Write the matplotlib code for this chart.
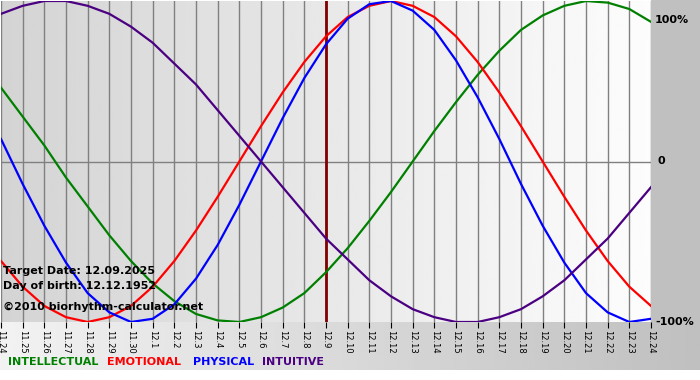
import matplotlib
matplotlib.use("Agg")
import matplotlib.pyplot as plt
import numpy as np

W, H = 700, 380

dates = ["11.24", "11.25", "11.26", "11.27", "11.28", "11.29", "11.30",
         "12.1", "12.2", "12.3", "12.4", "12.5", "12.6", "12.7", "12.8",
         "12.9", "12.10", "12.11", "12.12", "12.13", "12.14", "12.15",
         "12.16", "12.17", "12.18", "12.19", "12.20", "12.21", "12.22",
         "12.23", "12.24"]
target_day = "12.9"

physical = [0.14, -0.14, -0.40, -0.63, -0.82, -0.94, -1.00, -0.98, -0.89,
            -0.73, -0.52, -0.27, 0.00, 0.27, 0.52, 0.73, 0.89, 0.98, 1.00,
            0.94, 0.82, 0.63, 0.40, 0.14, -0.14, -0.40, -0.63, -0.82,
            -0.94, -1.00, -0.98]
emotional = [-0.62, -0.78, -0.90, -0.97, -1.00, -0.97, -0.90, -0.78, -0.62,
             -0.43, -0.22, 0.00, 0.22, 0.43, 0.62, 0.78, 0.90, 0.97, 1.00,
             0.97, 0.90, 0.78, 0.62, 0.43, 0.22, 0.00, -0.22, -0.43, -0.62,
             -0.78, -0.90]
intellectual = [0.46, 0.28, 0.10, -0.10, -0.28, -0.46, -0.62, -0.76, -0.87,
                -0.95, -0.99, -1.00, -0.97, -0.91, -0.82, -0.69, -0.54, -0.37,
                -0.19, 0.00, 0.19, 0.37, 0.54, 0.69, 0.82, 0.91, 0.97, 1.00,
                0.99, 0.95, 0.87]
intuitive = [0.92, 0.97, 1.00, 1.00, 0.97, 0.92, 0.84, 0.74, 0.61, 0.48,
             0.32, 0.16, 0.00, -0.16, -0.32, -0.48, -0.61, -0.74, -0.84,
             -0.92, -0.97, -1.00, -1.00, -0.97, -0.92, -0.84, -0.74, -0.61,
             -0.48, -0.32, -0.16]

series = [("INTELLECTUAL", intellectual, "#008000"),
          ("EMOTIONAL", emotional, "#ff0000"),
          ("PHYSICAL", physical, "#0000ff"),
          ("INTUITIVE", intuitive, "#4b0082")]
legend_x = [8, 107, 193, 262]

info_lines = ["Target Date: 12.09.2025", "Day of birth: 12.12.1952",
              "\u00a92010 biorhythm-calculator.net"]

fig = plt.figure(figsize=(W / 100, H / 100), dpi=100)
fig.patch.set_facecolor("white")

# background: grey right panel and gradient band under the plot
bg = fig.add_axes([0, 0, 1, 1], zorder=0)
bg.set_xlim(0, W)
bg.set_ylim(H, 0)
bg.axis("off")
bg.add_patch(plt.Rectangle((651, 0), W - 651, 322, color="#c0c0c0", lw=0))
grad = np.linspace(0.95, 0.75, 256).reshape(1, -1)
bg.imshow(grad, cmap="gray", vmin=0, vmax=1, aspect="auto",
          extent=(0, W, 370, 322))

ax = fig.add_axes([1 / W, 1 - 322 / H, 650 / W, 321 / H], zorder=1)
x = np.arange(len(dates))
ax.set_xlim(0, len(dates) - 1)
ax.set_ylim(-1.0, 1.0)

pgrad = np.linspace(0.83, 0.99, 256).reshape(1, -1)
ax.imshow(pgrad, cmap="gray", vmin=0, vmax=1, aspect="auto",
          extent=(0, len(dates) - 1, -1.0, 1.0), zorder=0)

for xi in x:
    ax.axvline(xi, color="#808080", lw=1, zorder=1)
ax.axhline(0, color="#808080", lw=1, zorder=1)
ax.axvline(dates.index(target_day), color="#800000", lw=2, zorder=2)

for name, vals, col in series:
    ax.plot(x, vals, color=col, lw=1.6, zorder=3)

for spine in ax.spines.values():
    spine.set_visible(False)
ax.set_yticks([])
ax.set_xticks(x)
ax.set_xticklabels(dates, rotation=-90, fontsize=6, va="top", ha="center")
ax.tick_params(axis="x", length=4, width=0.8, color="black", pad=2)

for i, line in enumerate(info_lines):
    fig.text(3 / W, 1 - [271, 286, 307][i] / H, line, fontsize=8,
             fontweight="bold", va="center", ha="left", zorder=5)

for lbl, yp, xp in [("100%", 20, 655), ("0", 161, 658), ("-100%", 322, 655)]:
    fig.text(xp / W, 1 - yp / H, lbl, fontsize=8, fontweight="bold",
             va="center", ha="left")

for (name, vals, col), xp in zip(series, legend_x):
    fig.text(xp / W, 1 - 362 / H, name, color=col, fontsize=8,
             fontweight="bold", va="center", ha="left")

fig.savefig("out.png", dpi=100)
